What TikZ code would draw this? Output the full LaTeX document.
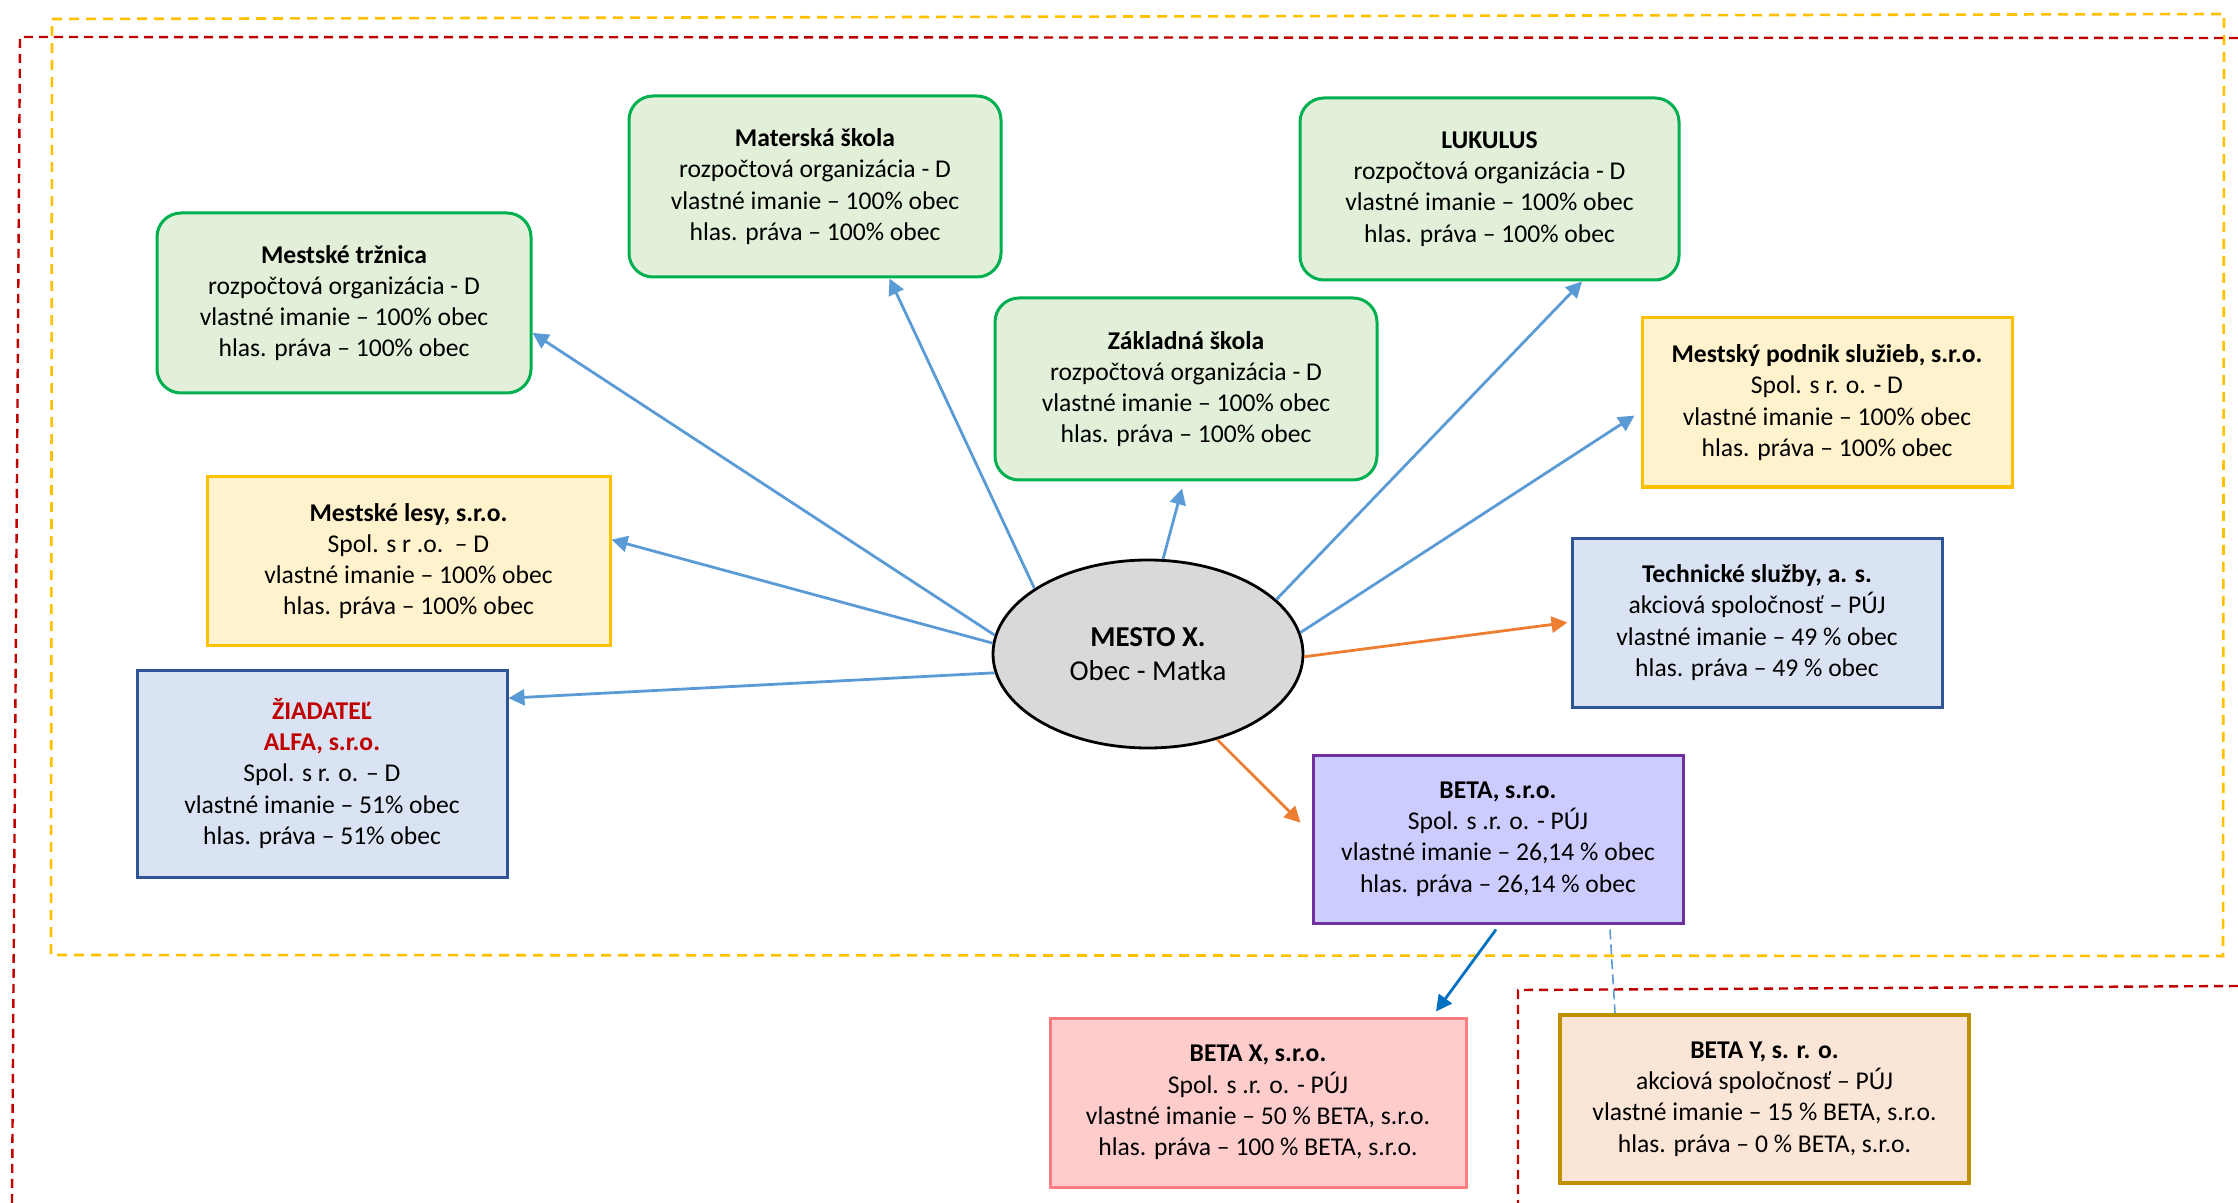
\documentclass[tikz,border=0pt]{standalone}
\usepackage{fontspec}
\setmainfont{Carlito}
\usetikzlibrary{shapes.geometric,arrows.meta,calc}
\definecolor{gfill}{HTML}{E2F0D9}
\definecolor{gline}{HTML}{00B050}
\definecolor{yfill}{HTML}{FFF2CC}
\definecolor{yline}{HTML}{FFC000}
\definecolor{bfill}{HTML}{DAE3F3}
\definecolor{bline}{HTML}{2F5597}
\definecolor{pfill}{HTML}{CCCCFF}
\definecolor{pline}{HTML}{7030A0}
\definecolor{rfill}{HTML}{FFCCCC}
\definecolor{rline}{HTML}{FF7C80}
\definecolor{ofill}{HTML}{FBE5D6}
\definecolor{oline}{HTML}{BF9000}
\definecolor{arrblue}{HTML}{5B9BD5}
\definecolor{arrorange}{HTML}{ED7D31}
\definecolor{arrdark}{HTML}{0070C0}
\definecolor{frmred}{HTML}{C00000}
\definecolor{frmyel}{HTML}{FFC000}
\begin{document}
\begin{tikzpicture}[x=0.5pt,y=-0.5pt,
  box/.style={draw, line width=1.5pt, align=center, inner sep=0pt,
    font=\fontsize{12.8}{15.6}\selectfont, text=black},
  gbox/.style={box, fill=gfill, draw=gline, rounded corners=12pt},
  ybox/.style={box, fill=yfill, draw=yline},
  bbox/.style={box, fill=bfill, draw=bline},
  pbox/.style={box, fill=pfill, draw=pline},
  rbox/.style={box, fill=rfill, draw=rline},
  obox/.style={box, fill=ofill, draw=oline, line width=1.8pt},
  conn/.style={line width=1.4pt, -{Triangle[length=8pt,width=8pt]}},
  bconn/.style={conn, draw=arrblue},
  oconn/.style={conn, draw=arrorange},
  dconn/.style={conn, draw=arrdark},
  yframe/.style={draw=frmyel, line width=1.3pt, dash pattern=on 5pt off 3.5pt},
  rframe/.style={draw=frmred, line width=1.2pt, dash pattern=on 4.5pt off 3pt},
]
\useasboundingbox (0,0) rectangle (2238,1203);

% dashed frames
\draw[yframe] (52,19) -- (2224,14) -- (2223,956) -- (51,955) -- cycle;
\draw[rframe] (2238,38) -- (20,37) -- (12,1203);
\draw[rframe] (2238,986) -- (1518,990) -- (1518,1203);

% centre
\node[ellipse, draw=black, line width=1.4pt, fill=black!15, minimum width=155pt,
  minimum height=94pt, inner sep=0pt, align=center,
  font=\fontsize{14.4}{17}\selectfont] (m) at (1148,654)
  {\textbf{MESTO X.}\\Obec - Matka};

% boxes
\node[gbox, minimum width=187pt, minimum height=90pt] (trz) at (344,303)
  {\textbf{Mestské tržnica}\\rozpočtová organizácia - D\\vlastné imanie – 100\% obec\\hlas. práva – 100\% obec};
\node[gbox, minimum width=186pt, minimum height=90.5pt] (mat) at (815,186.5)
  {\textbf{Materská škola}\\rozpočtová organizácia - D\\vlastné imanie – 100\% obec\\hlas. práva – 100\% obec};
\node[gbox, minimum width=189.5pt, minimum height=91pt] (luk) at (1489.5,189)
  {\textbf{LUKULUS}\\rozpočtová organizácia - D\\vlastné imanie – 100\% obec\\hlas. práva – 100\% obec};
\node[gbox, minimum width=191pt, minimum height=91pt] (zak) at (1186,389)
  {\textbf{Základná škola}\\rozpočtová organizácia - D\\vlastné imanie – 100\% obec\\hlas. práva – 100\% obec};
\node[ybox, minimum width=185pt, minimum height=84.5pt] (pod) at (1827,402.5)
  {\textbf{Mestský podnik služieb, s.r.o.}\\Spol. s r. o. - D\\vlastné imanie – 100\% obec\\hlas. práva – 100\% obec};
\node[ybox, minimum width=201.5pt, minimum height=84pt] (les) at (408.5,561)
  {\textbf{Mestské lesy, s.r.o.}\\Spol. s r .o.\ \ – D\\vlastné imanie – 100\% obec\\hlas. práva – 100\% obec};
\node[bbox, minimum width=185pt, minimum height=84.5pt] (tec) at (1757,622.5)
  {\textbf{Technické služby, a. s.}\\akciová spoločnosť – PÚJ\\vlastné imanie – 49 \% obec\\hlas. práva – 49 \% obec};
\node[bbox, minimum width=185pt, minimum height=103.5pt] (zia) at (322,773.5)
  {\textcolor{frmred}{\textbf{ŽIADATEĽ}}\\\textcolor{frmred}{\textbf{ALFA, s.r.o.}}\\Spol. s r. o. – D\\vlastné imanie – 51\% obec\\hlas. práva – 51\% obec};
\node[pbox, minimum width=185pt, minimum height=84pt] (beta) at (1498,839)
  {\textbf{BETA, s.r.o.}\\Spol. s .r. o. - PÚJ\\vlastné imanie – 26,14 \% obec\\hlas. práva – 26,14 \% obec};
\node[rbox, minimum width=208pt, minimum height=84.5pt] (bx) at (1258,1102.5)
  {\textbf{BETA X, s.r.o.}\\Spol. s .r. o. - PÚJ\\vlastné imanie – 50 \% BETA, s.r.o.\\hlas. práva – 100 \% BETA, s.r.o.};
\node[obox, minimum width=204.5pt, minimum height=84pt] (by) at (1764.5,1099)
  {\textbf{BETA Y, s. r. o.}\\akciová spoločnosť – PÚJ\\vlastné imanie – 15 \% BETA, s.r.o.\\hlas. práva – 0 \% BETA, s.r.o.};

% connectors
\draw[bconn] (m.150) -- (mat.-51.6);
\draw[bconn] (m.173.9) -- (trz.-9.4);
\draw[bconn] (m.81.5) -- ($(zak.south)+(-4,7)$);
\draw[bconn] (m.23.4) -- (luk.-45.8);
\draw[bconn] (m.8.1) -- ($(pod.184.6)+(-6,0)$);
\draw[bconn] (m.176.7) -- (les.6.5);
\draw[bconn] (m.187.7) -- (zia.22.5);
\draw[oconn] (m.-1) -- ($(tec.west)+(-3,0)$);
\draw[oconn] (m.-51.6) -- ($(beta.175.6)+(-11,0)$);
\draw[dconn] ($(beta.south)+(-2,5)$) -- ($(bx.north)+(178,-5)$);
\draw[draw=arrblue, line width=0.8pt, dash pattern=on 5pt off 2.5pt] ($(beta.south)+(112,5)$) -- ($(by.north)+(-149.5,0)$);
\end{tikzpicture}
\end{document}
